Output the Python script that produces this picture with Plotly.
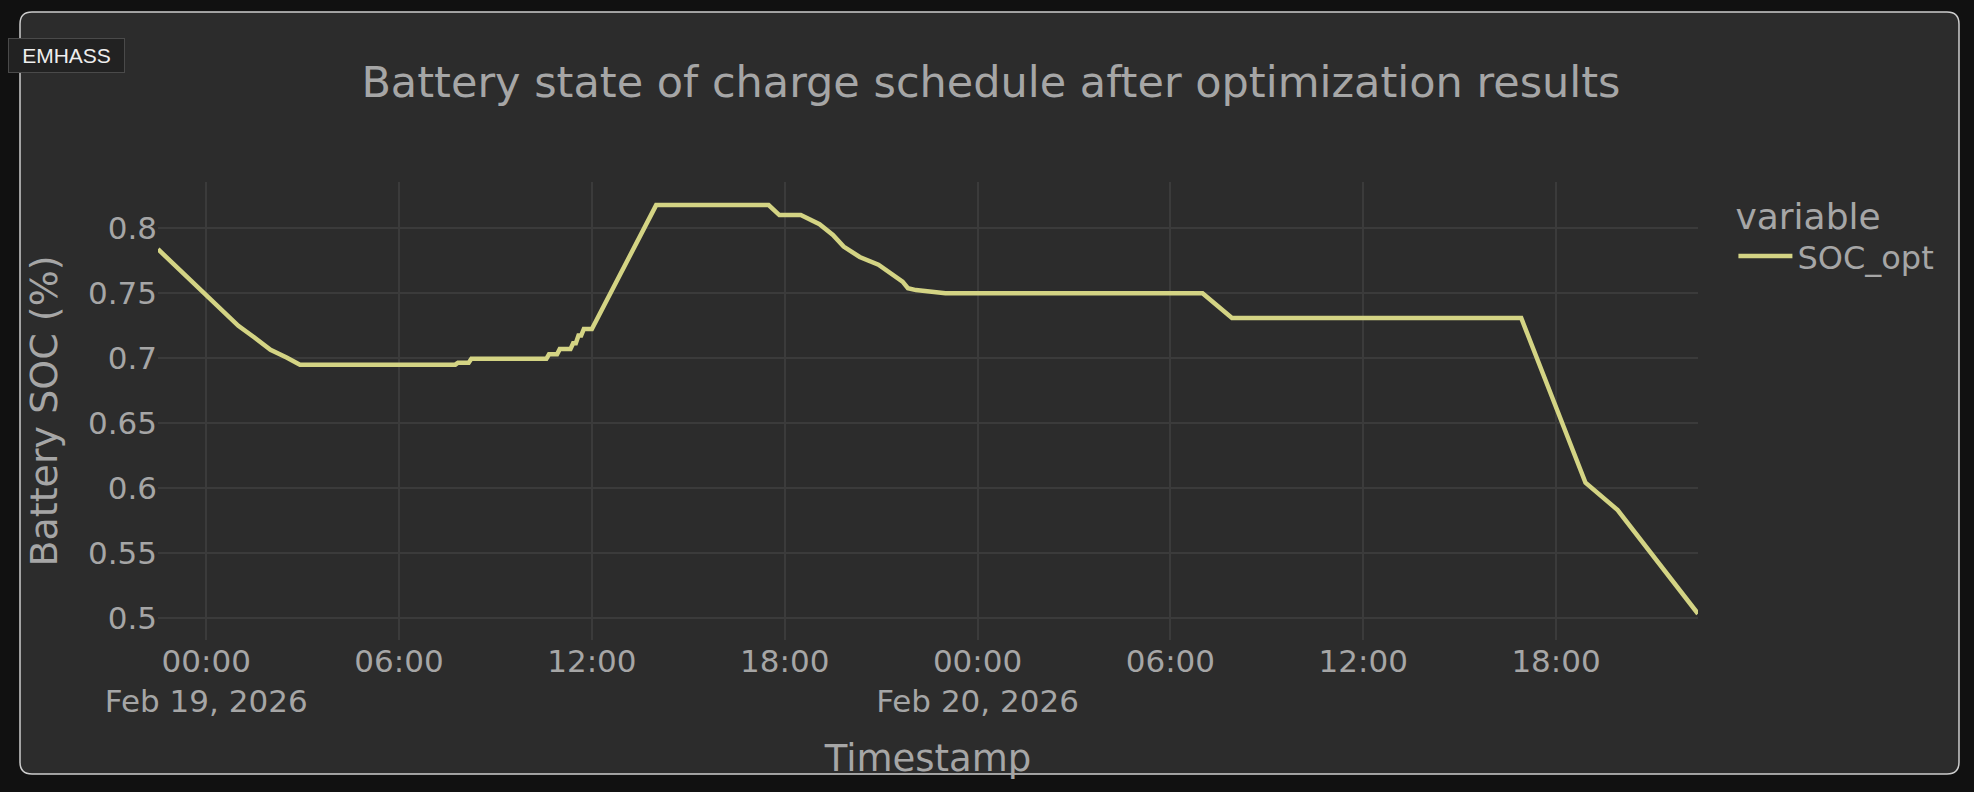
import plotly.graph_objects as go

# SOC_opt schedule (timestamp, state of charge)
timestamps = [
    "2026-02-18 22:30", "2026-02-18 23:30", "2026-02-19 00:30", "2026-02-19 01:00",
    "2026-02-19 01:30", "2026-02-19 02:00", "2026-02-19 02:30", "2026-02-19 02:55",
    "2026-02-19 07:45", "2026-02-19 07:50", "2026-02-19 08:10", "2026-02-19 08:15",
    "2026-02-19 10:35", "2026-02-19 10:40", "2026-02-19 10:55", "2026-02-19 11:00",
    "2026-02-19 11:20", "2026-02-19 11:25", "2026-02-19 11:30", "2026-02-19 11:35",
    "2026-02-19 11:40", "2026-02-19 11:45", "2026-02-19 12:00", "2026-02-19 14:00",
    "2026-02-19 17:30", "2026-02-19 17:50", "2026-02-19 18:30", "2026-02-19 19:05",
    "2026-02-19 19:30", "2026-02-19 19:50", "2026-02-19 20:20", "2026-02-19 20:55",
    "2026-02-19 21:40", "2026-02-19 21:50", "2026-02-19 22:05", "2026-02-19 22:45",
    "2026-02-19 23:00", "2026-02-20 07:00", "2026-02-20 07:55", "2026-02-20 16:55",
    "2026-02-20 18:55", "2026-02-20 19:55", "2026-02-20 22:25",
]
soc_opt = [
    0.784, 0.760, 0.737, 0.725,
    0.716, 0.7065, 0.7005, 0.695,
    0.695, 0.6965, 0.6965, 0.6995,
    0.6995, 0.703, 0.703, 0.707,
    0.707, 0.7115, 0.7115, 0.7175,
    0.7175, 0.7225, 0.7225, 0.818,
    0.818, 0.8103, 0.8103, 0.8033,
    0.795, 0.786, 0.778, 0.772,
    0.759, 0.754, 0.7525, 0.7505,
    0.750, 0.750, 0.731, 0.731,
    0.604, 0.583, 0.503,
]

W, H = 1974, 792
L, R, T, B = 158, 276, 182, 152
PW = W - L - R
PH = H - T - B

TEXT = "#a6a6a6"
GRID = "#3b3b3b"
FONT = "DejaVu Sans"


def paper_x(px):
    return (px - L) / PW


def paper_y(py):
    return (H - B - py) / PH


def rounded_rect(x0, y0, x1, y1, r):
    pts = [
        ("M", [(x0 + r, y0)]),
        ("L", [(x1 - r, y0)]),
        ("Q", [(x1, y0), (x1, y0 + r)]),
        ("L", [(x1, y1 - r)]),
        ("Q", [(x1, y1), (x1 - r, y1)]),
        ("L", [(x0 + r, y1)]),
        ("Q", [(x0, y1), (x0, y1 - r)]),
        ("L", [(x0, y0 + r)]),
        ("Q", [(x0, y0), (x0 + r, y0)]),
    ]
    path = ""
    for cmd, coords in pts:
        path += cmd + " ".join(f"{paper_x(x):.5f},{paper_y(y):.5f}" for x, y in coords) + " "
    return path + "Z"


fig = go.Figure()
fig.add_trace(
    go.Scatter(
        x=timestamps,
        y=soc_opt,
        mode="lines",
        name="SOC_opt",
        line=dict(color="#d4d484", width=4.5),
        showlegend=True,
    )
)

# card behind the chart
fig.add_shape(
    type="path",
    xref="paper",
    yref="paper",
    path=rounded_rect(20, 12, 1959, 774, 12),
    fillcolor="#2c2c2c",
    line=dict(color="#cdcdcd", width=1.5),
    layer="below",
)

# EMHASS badge
fig.add_annotation(
    text="EMHASS",
    xref="paper",
    yref="paper",
    x=paper_x(8),
    y=paper_y(38),
    xanchor="left",
    yanchor="top",
    showarrow=False,
    font=dict(family="Liberation Sans", size=21, color="#eeeeee"),
    bgcolor="#222222",
    bordercolor="#4a4a4a",
    borderwidth=1,
    borderpad=2,
    width=111,
    height=29,
)

fig.update_layout(
    width=W,
    height=H,
    margin=dict(l=L, r=R, t=T, b=B, autoexpand=False),
    paper_bgcolor="#111111",
    plot_bgcolor="rgba(0,0,0,0)",
    font=dict(family=FONT, color=TEXT, size=31),
    title=dict(
        text="Battery state of charge schedule after optimization results",
        font=dict(size=43, color=TEXT),
        x=0.502,
        xanchor="center",
        y=1 - 82 / H,
        yanchor="middle",
    ),
    legend=dict(
        title=dict(text="variable", font=dict(size=36)),
        font=dict(size=32),
        x=1.023,
        xanchor="left",
        y=1,
        yanchor="top",
        bgcolor="rgba(0,0,0,0)",
        itemwidth=54,
    ),
    showlegend=True,
)

fig.update_xaxes(
    title=dict(text="Timestamp", font=dict(size=37), standoff=26),
    tickformat="%H:%M\n%b %d, %Y",
    dtick=6 * 3600 * 1000,
    tick0="2026-02-19 00:00",
    showgrid=True,
    gridcolor=GRID,
    gridwidth=2,
    zeroline=False,
    showline=False,
    ticks="",
    automargin=False,
)
fig.update_yaxes(
    title=dict(text="Battery SOC (%)", font=dict(size=38), standoff=18),
    range=[0.4828, 0.8358],
    dtick=0.05,
    showgrid=True,
    gridcolor=GRID,
    gridwidth=2,
    zeroline=False,
    showline=False,
    ticks="",
    automargin=False,
)

fig.write_html(
    "out.html",
    config={"displayModeBar": False},
    post_script="document.body.style.margin='0';document.body.style.background='#111111';",
)
